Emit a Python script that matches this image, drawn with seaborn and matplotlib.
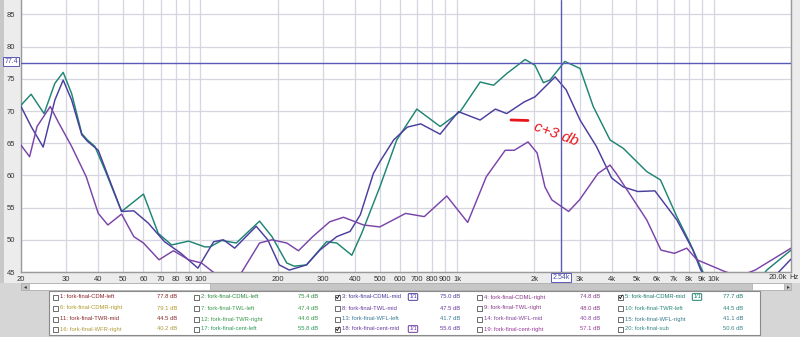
import numpy as np
import pandas as pd
import matplotlib
matplotlib.use("Agg")
import matplotlib.pyplot as plt
from matplotlib.patches import Rectangle
from matplotlib.lines import Line2D
from matplotlib.ticker import NullLocator
import seaborn as sns

# ---------------- data ----------------
freq_cdmr = [20, 21.9, 24.6, 27.1, 29.2, 31.5, 34.5, 36.3, 38.8, 42.5, 49.3, 60, 68.5, 77.3, 90, 104, 109,
             121, 138, 170, 190, 217, 232, 259, 310, 340, 389, 425, 500, 582, 697, 859, 1028, 1230,
             1387, 1560, 1841, 2012, 2169, 2300, 2630, 3014, 3392, 3945, 4443, 5480, 6200, 7180,
             8080, 9100, 10500, 12500, 14500, 16100, 20000]
db_cdmr = [70.9, 72.6, 69.6, 74.3, 76.0, 72.7, 66.5, 65.5, 64.5, 60.8, 54.4, 57.1, 51.0, 49.2, 49.8, 48.9, 48.9,
           49.9, 49.5, 52.9, 50.5, 46.4, 45.9, 46.1, 49.7, 49.5, 47.6, 51.0, 58.2, 65.5, 70.3, 67.6, 69.9, 74.5,
           74.0, 75.8, 78.0, 77.1, 74.4, 74.8, 77.7, 76.6, 70.7, 65.5, 64.2, 60.6, 59.3, 53.6,
           49.5, 44.9, 42.0, 40.5, 43.0, 45.3, 48.4]

freq_cdml = [20, 21.9, 24.4, 27.1, 29.2, 31.5, 34.5, 36.3, 40, 49.3, 55, 62.6, 72.5, 84, 97.8, 112.6, 123,
             136, 165, 183, 203, 222, 259, 292, 340, 383, 420, 472, 500, 566, 640, 722, 859, 1012, 1230,
             1410, 1560, 1825, 2012, 2410, 2660, 3014, 3490, 4000, 4443, 5060, 5900, 7180, 8300,
             8900, 10500, 13000, 16500, 20000]
db_cdml = [70.7, 67.6, 64.4, 71.7, 74.8, 71.7, 66.3, 65.3, 63.9, 54.4, 54.5, 52.6, 49.7, 47.9, 45.6, 49.7, 50.0,
           48.7, 52.1, 50.0, 46.1, 45.3, 46.1, 48.4, 50.5, 51.3, 53.9, 60.3, 62.1, 65.5, 67.5, 68.0, 66.4, 69.9, 68.6,
           70.3, 69.6, 71.4, 72.2, 75.3, 73.3, 68.6, 64.5, 59.6, 58.2, 57.5, 57.6, 53.1, 48.4,
           45.3, 41.5, 40.0, 43.5, 47.0]

freq_cent = [20, 21.6, 23.1, 26.0, 28.1, 31.5, 35.9, 40, 43.6, 49.3, 55, 60, 69, 78.5, 90, 101, 112, 125,
             144, 170, 190, 217, 241, 274, 319, 361, 432, 500, 630, 745, 912, 1100, 1300, 1540, 1670,
             1890, 2050, 2200, 2340, 2720, 3000, 3540, 3945, 4170, 5480, 6230, 7030, 7850, 8600,
             10000, 11000, 12500, 14500, 20000]
db_cent = [64.7, 62.9, 67.6, 70.7, 68.1, 64.5, 59.8, 54.1, 52.3, 54.0, 50.5, 49.5, 46.9, 48.3, 46.9, 46.4, 45.0, 44.0,
           44.8, 49.5, 50.0, 49.5, 48.3, 50.5, 52.8, 53.5, 52.3, 52.0, 54.1, 53.6, 56.8, 52.7, 59.8, 63.9, 63.9,
           65.2, 63.5, 58.2, 56.2, 54.4, 56.2, 60.3, 61.6, 60.3, 53.1, 48.4, 47.9, 48.7, 46.9,
           45.8, 45.1, 44.3, 45.3, 48.7]

series_names = ["fork-final-CDMR-mid", "fork-final-CDML-mid", "fork-final-cent-mid"]
series_colors = ["#1f8573", "#4a3f9e", "#7a45a8"]

x_ticks = [20, 30, 40, 50, 60, 70, 80, 90, 100, 200, 300, 400, 500, 600, 700, 800, 900,
           1000, 2000, 3000, 4000, 5000, 6000, 7000, 8000, 9000, 10000, 20000]
x_tick_labels = ["20", "30", "40", "50", "60", "70", "80", "90", "100", "200", "300", "400", "500",
                 "600", "700", "800", "900", "1k", "2k", "3k", "4k", "5k", "6k", "7k", "8k", "9k",
                 "10k", ""]
y_ticks = [45, 50, 55, 60, 65, 70, 75, 80, 85]

cursor_db = 77.4
cursor_hz = 2540

legend_names = ["fork-final-CDM-left", "fork-final-CDML-left", "fork-final-CDML-mid",
                "fork-final-CDML-right", "fork-final-CDMR-mid", "fork-final-CDMR-right",
                "fork-final-TWL-left", "fork-final-TWL-mid", "fork-final-TWL-right",
                "fork-final-TWR-left", "fork-final-TWR-mid", "fork-final-TWR-right",
                "fork-final-WFL-left", "fork-final-WFL-mid", "fork-final-WFL-right",
                "fork-final-WFR-right", "fork-final-cent-left", "fork-final-cent-mid",
                "fork-final-cent-right", "fork-final-sub"]
legend_values = ["77.8 dB", "75.4 dB", "75.0 dB", "74.8 dB", "77.7 dB",
                 "79.1 dB", "47.4 dB", "47.5 dB", "48.0 dB", "44.5 dB",
                 "44.5 dB", "44.6 dB", "41.7 dB", "40.8 dB", "41.1 dB",
                 "40.2 dB", "55.8 dB", "55.6 dB", "57.1 dB", "50.6 dB"]
legend_colors = ["#8b2222", "#2e8b3e", "#4b3c9c", "#8a3a8a", "#1f7f6f",
                 "#b09a2a", "#3a9a4a", "#6a3aa0", "#8a3a8a", "#2a8a7a",
                 "#8b2a2a", "#3a9a4a", "#3a7a9a", "#8a4aa0", "#3a7a8a",
                 "#b09a3a", "#2a9a5a", "#6a3aa0", "#9a3a9a", "#3a8a8a"]
legend_checked = [3, 5, 18]

# ---------------- build frame ----------------
frames = []
for name, f, d in [(series_names[0], freq_cdmr, db_cdmr),
                   (series_names[1], freq_cdml, db_cdml),
                   (series_names[2], freq_cent, db_cent)]:
    frames.append(pd.DataFrame({"freq": f, "db": d, "trace": name}))
df = pd.concat(frames, ignore_index=True)

W, H = 800, 337
fx = lambda x: x / W
fy = lambda y: 1 - y / H

sns.set_style("white")
plt.rcParams["font.family"] = ["Liberation Sans", "DejaVu Sans"]

fig = plt.figure(figsize=(8, 3.37), dpi=100, facecolor="#d6d6d6")

# background bands
fig.patches.append(Rectangle((0, fy(283)), fx(W), 283 / H, transform=fig.transFigure,
                             facecolor="#ececec", edgecolor="none", zorder=-10))
fig.patches.append(Rectangle((0, fy(283)), fx(4), 283 / H, transform=fig.transFigure,
                             facecolor="#c8c8c8", edgecolor="none", zorder=-9))

ax = fig.add_axes([fx(21), fy(272), 770 / W, 272 / H])
ax.set_zorder(1)
ax.set_facecolor("white")

palette = dict(zip(series_names, series_colors))
sns.lineplot(data=df, x="freq", y="db", hue="trace", palette=palette, estimator=None,
             sort=False, linewidth=1.05, legend=False, ax=ax, zorder=3)

ax.set_xscale("log")
ax.set_xlim(20, 20000)
ax.set_ylim(45, 45 + 272 / 6.44)
ax.set_xticks(x_ticks)
ax.set_xticklabels(x_tick_labels)
ax.xaxis.set_minor_locator(NullLocator())
ax.set_yticks(y_ticks)
ax.set_yticklabels([str(v) for v in y_ticks])
ax.tick_params(axis="both", length=0, labelsize=5.5, colors="#333333", pad=3)
ax.tick_params(axis="y", pad=4)
ax.grid(True, which="major", color="#d6d6e0", linewidth=0.9)
ax.set_axisbelow(True)
ax.set_xlabel("")
ax.set_ylabel("")
for s in ["left", "bottom", "right"]:
    ax.spines[s].set_color("#9a9a9a")
    ax.spines[s].set_linewidth(1.0)
ax.spines["top"].set_visible(False)

ax.axhline(cursor_db, color="#5a5ab8", linewidth=1.0, zorder=4)
ax.axvline(cursor_hz, color="#5a5ab8", linewidth=1.0, zorder=4)

# cursor value boxes
fig.text(fx(11), fy(61.5), "77.4", fontsize=5, color="#4a4aa8", ha="center", va="center",
         bbox=dict(boxstyle="square,pad=0.15", fc="white", ec="#5a5ab8", lw=0.7), zorder=5)
fig.text(fx(561), fy(277.5), "2.54k", fontsize=5, color="#4a4aa8", ha="center", va="center",
         bbox=dict(boxstyle="square,pad=0.15", fc="white", ec="#5a5ab8", lw=0.7), zorder=5)
fig.text(fx(787), fy(277.5), "20.0k", fontsize=5.5, color="#333333", ha="right", va="center")
fig.text(fx(789), fy(277.5), "Hz", fontsize=5.5, color="#333333", ha="left", va="center")

# handwritten-style annotation
fig.lines.append(Line2D([fx(511), fx(528)], [fy(120), fy(120.5)], transform=fig.transFigure,
                        color="#e8161b", linewidth=2.0, zorder=6))
fig.text(fx(556), fy(134), "c+3 db", fontsize=11, color="#e8161b", rotation=-20,
         ha="center", va="center", style="italic", zorder=6)

# scrollbar
fig.patches.append(Rectangle((fx(21), fy(290)), 770 / W, 7 / H, transform=fig.transFigure,
                             facecolor="#c6c6c6", edgecolor="#a8a8a8", lw=0.5, zorder=1))
fig.patches.append(Rectangle((fx(29), fy(290)), 181 / W, 7 / H, transform=fig.transFigure,
                             facecolor="white", edgecolor="#a8a8a8", lw=0.5, zorder=2))
fig.patches.append(Rectangle((fx(752), fy(290)), 32 / W, 7 / H, transform=fig.transFigure,
                             facecolor="white", edgecolor="#a8a8a8", lw=0.5, zorder=2))
fig.text(fx(25), fy(286.5), "◂", fontsize=4, ha="center", va="center", color="#333333",
         family="DejaVu Sans")
fig.text(fx(788), fy(286.5), "▸", fontsize=4, ha="center", va="center", color="#333333",
         family="DejaVu Sans")

# legend panel
fig.patches.append(Rectangle((fx(49), fy(335)), 711 / W, 44 / H, transform=fig.transFigure,
                             facecolor="white", edgecolor="#8a8a8a", lw=0.8, zorder=1))
cb_x = [53, 194, 335, 477, 618]
val_x = [157, 298, 440, 580, 723]
row_y = [297, 308, 319, 329]
for i, (name, val, col) in enumerate(zip(legend_names, legend_values, legend_colors)):
    r, c = divmod(i, 5)
    idx = i + 1
    yy = row_y[r]
    fig.patches.append(Rectangle((fx(cb_x[c]), fy(yy + 2.5)), 5 / W, 5 / H,
                                 transform=fig.transFigure, facecolor="white",
                                 edgecolor="#555555", lw=0.6, zorder=3))
    if idx in legend_checked:
        fig.lines.append(Line2D([fx(cb_x[c] + 1), fx(cb_x[c] + 2.3), fx(cb_x[c] + 4.3)],
                                [fy(yy), fy(yy + 1.6), fy(yy - 2)], transform=fig.transFigure,
                                color="#222222", lw=0.7, zorder=4))
    fig.text(fx(cb_x[c] + 7), fy(yy), f"{idx}: {name}", fontsize=4.2, color=col,
             ha="left", va="center")
    fig.text(fx(val_x[c]), fy(yy), val, fontsize=4.2, color=col, ha="left", va="center")

for (ix, iy, icol) in [(413, 297, "#4b3c9c"), (697, 297, "#1f7f6f"), (413, 329, "#6a3aa0")]:
    fig.text(fx(ix), fy(iy), "1/1", fontsize=4, color=icol, ha="center", va="center",
             bbox=dict(boxstyle="round,pad=0.15", fc="white", ec=icol, lw=0.7))

fig.savefig("out.png", dpi=100, facecolor=fig.get_facecolor())
